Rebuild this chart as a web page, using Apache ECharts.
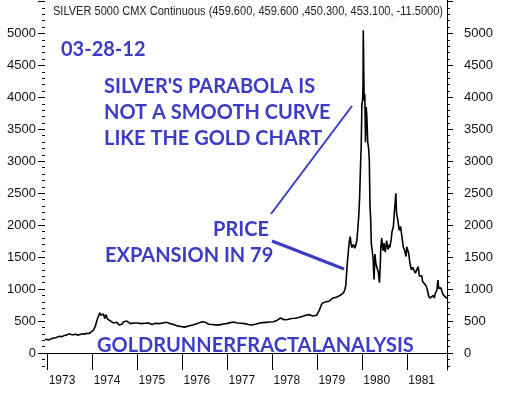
<!DOCTYPE html>
<html><head><meta charset="utf-8">
<script src="https://cdn.jsdelivr.net/npm/echarts@6/dist/echarts.min.js"></script>
<style>html,body{margin:0;padding:0;background:#fff}#c{width:511px;height:396px}</style>
</head><body><div id="c"></div>
<script>
// ---- data (decimal year, price in cents) ----
const dates = [1972.94,1972.98,1973.03,1973.08,1973.12,1973.17,1973.22,1973.27,1973.32,1973.37,1973.42,1973.47,1973.52,1973.57,1973.62,1973.67,1973.72,1973.77,1973.82,1973.87,1973.92,1973.97,
1974.02,1974.06,1974.10,1974.13,1974.16,1974.18,1974.21,1974.24,1974.27,1974.30,1974.33,1974.36,1974.40,1974.43,1974.46,1974.50,1974.54,1974.58,1974.61,1974.65,1974.69,1974.73,1974.76,1974.80,1974.84,1974.88,1974.92,1974.96,
1975.00,1975.04,1975.08,1975.12,1975.16,1975.20,1975.24,1975.28,1975.32,1975.36,1975.40,1975.44,1975.48,1975.52,1975.56,1975.60,1975.64,1975.68,1975.72,1975.76,1975.80,1975.84,1975.88,1975.92,1975.96,
1976.00,1976.04,1976.08,1976.12,1976.16,1976.20,1976.24,1976.28,1976.32,1976.36,1976.40,1976.44,1976.48,1976.51,1976.54,1976.58,1976.62,1976.66,1976.70,1976.74,1976.78,1976.82,1976.86,1976.90,1976.94,1976.98,
1977.02,1977.06,1977.10,1977.14,1977.18,1977.22,1977.26,1977.30,1977.34,1977.38,1977.42,1977.46,1977.50,1977.54,1977.58,1977.62,1977.66,1977.70,1977.74,1977.78,1977.82,1977.86,1977.90,1977.94,1977.98,
1978.02,1978.06,1978.10,1978.14,1978.18,1978.22,1978.26,1978.30,1978.34,1978.38,1978.42,1978.46,1978.50,1978.54,1978.58,1978.62,1978.66,1978.70,1978.74,1978.78,1978.82,1978.86,1978.90,1978.94,1978.98,
1979.02,1979.05,1979.08,1979.11,1979.14,1979.18,1979.22,1979.26,1979.30,1979.34,1979.38,1979.42,1979.46,1979.50,1979.54,1979.58,1979.61,1979.63,1979.65,1979.67,1979.69,1979.71,1979.73,1979.75,1979.77,1979.80,1979.83,1979.86,1979.88,1979.90,1979.92,1979.94,1979.96,1979.975,1979.99,
1980.005,1980.015,1980.02,1980.03,1980.04,1980.055,1980.07,1980.085,1980.10,1980.12,1980.14,1980.155,1980.17,1980.185,1980.20,1980.22,1980.24,1980.26,1980.28,1980.30,1980.32,1980.34,1980.36,1980.38,1980.40,1980.41,1980.43,1980.45,1980.46,1980.48,1980.49,1980.51,1980.52,1980.54,1980.55,1980.57,1980.58,1980.60,1980.61,1980.64,1980.66,1980.69,1980.71,1980.73,1980.745,1980.76,1980.79,1980.82,1980.85,1980.88,1980.91,1980.94,1980.97,1980.99,
1981.03,1981.06,1981.09,1981.12,1981.15,1981.18,1981.21,1981.24,1981.27,1981.30,1981.32,1981.34,1981.37,1981.41,1981.44,1981.47,1981.50,1981.54,1981.58,1981.60,1981.62,1981.66,1981.68,1981.70,1981.73,1981.75,1981.77,1981.80,1981.84,1981.88];
const prices = [215,210,205,225,220,240,250,262,255,275,280,300,290,285,295,280,290,300,295,310,305,330,
360,420,520,580,630,590,560,610,540,600,530,560,500,520,470,500,480,440,470,450,490,470,500,480,460,480,470,455,
470,440,460,445,465,450,470,460,445,455,465,450,460,450,470,490,480,470,460,470,445,440,425,430,415,
420,405,410,420,415,435,440,450,465,470,480,490,505,480,460,450,440,445,435,440,445,440,450,455,450,460,
470,475,480,485,480,470,475,465,470,460,450,445,440,438,445,450,460,465,470,475,470,480,475,485,490,
490,500,510,540,548,530,520,515,525,535,540,530,545,550,555,565,570,580,590,585,600,595,580,570,590,
620,680,740,780,770,800,830,810,840,860,850,870,880,900,890,940,990,1050,1250,1450,1600,1750,1820,1700,1650,1700,1640,1700,1780,1950,2150,2450,2950,3250,3900,
3950,4200,5050,4500,3950,4050,3300,3850,3700,3300,3200,3000,2300,2100,1700,1600,1460,1150,1550,1400,1350,1300,1250,1100,1400,1650,1800,1650,1600,1720,1700,1580,1650,1760,1700,1620,1600,1700,1650,1770,1900,1980,2190,2350,2500,2190,2080,1920,1980,1820,1660,1610,1510,1660,
1560,1400,1300,1340,1320,1250,1270,1350,1200,1170,1210,1120,1090,1060,1010,900,860,880,900,860,930,990,1140,1010,985,1020,960,910,880,855];
const yearTicks = [1973,1974,1975,1976,1977,1978,1979,1980,1981];
const priceLabelMax = 5000;
const titleText = 'SILVER 5000 CMX Continuous (459.600, 459.600 ,450.300, 453.100, -11.5000)';
const notes = [
  ['03-28-12', 61, 50],
  ["SILVER'S PARABOLA IS", 104, 87],
  ['NOT A SMOOTH CURVE', 104, 113],
  ['LIKE THE GOLD CHART', 104, 139],
  ['PRICE', 213, 230],
  ['EXPANSION IN 79', 105, 256],
  ['GOLDRUNNERFRACTALANALYSIS', 97, 346]
];

const LBL_FONT = '"Liberation Sans Narrow","Liberation Sans",Arial,sans-serif';
const BLUE = '#3c3cc4';
const L = 45, R = 64;

// measure title to fit its width in the reference
const cv = document.createElement('canvas').getContext('2d');
cv.font = '12px "Liberation Sans"';
const tW = cv.measureText(titleText).width;
const tScale = 390 / tW;

function tickAxis(grid, pos, min, max, interval, len, labels) {
  return {
    type: 'value', gridIndex: grid, position: pos, min: min, max: max, interval: interval,
    splitLine: {show: false}, axisLine: {show: false},
    axisTick: {show: true, inside: false, length: len, lineStyle: {color: '#000', width: 1}},
    axisLabel: labels ? {show: true, margin: pos === 'left' ? 9 : 17, color: '#111', fontSize: 13,
      fontFamily: LBL_FONT, formatter: v => (v <= priceLabelMax ? String(v) : '')} : {show: false}
  };
}

const chart = echarts.init(document.getElementById('c'), null, {renderer: 'canvas'});
chart.setOption({
  animation: false,
  backgroundColor: '#fff',
  grid: [
    {left: L, right: R, top: 0, height: 370},
    {left: L, right: R, top: 1.56, height: 351.44},
    {left: L, right: R, top: 1.56, height: 364.22}
  ],
  xAxis: [{
    type: 'value', gridIndex: 0, min: 1972.94, max: 1981.883,
    splitLine: {show: false},
    axisLine: {show: true, lineStyle: {color: '#000', width: 1}},
    axisTick: {show: true, length: 17, customValues: yearTicks, lineStyle: {color: '#000', width: 1}},
    axisLabel: {customValues: yearTicks, align: 'left', margin: 5, padding: [0, 0, 0, 1],
      color: '#111', fontSize: 12, fontFamily: LBL_FONT, formatter: v => String(Math.round(v))}
  },
  {type: 'value', gridIndex: 1, show: false, min: 0, max: 1},
  {type: 'value', gridIndex: 2, show: false, min: 0, max: 1}],
  yAxis: [
    {type: 'value', gridIndex: 0, position: 'right', min: -266, max: 5524,
      splitLine: {show: false}, axisLine: {show: true, lineStyle: {color: '#000', width: 1}},
      axisTick: {show: false}, axisLabel: {show: false}},
    tickAxis(1, 'left', 0, 5500, 500, 7, true),
    tickAxis(1, 'right', 0, 5500, 500, 6, true),
    tickAxis(2, 'left', -200, 5500, 100, 3, false),
    tickAxis(2, 'right', -200, 5500, 100, 3, false)
  ],
  series: [{
    type: 'line', xAxisIndex: 0, yAxisIndex: 0, showSymbol: false, symbol: 'none',
    lineStyle: {color: '#000', width: 1.6},
    data: dates.map((d, i) => [d, prices[i]])
  }],
  graphic: [{
    type: 'text', left: 53, top: 6, scaleX: tScale, originX: 0, z: 10,
    style: {text: titleText, fill: '#222', font: '12px "Liberation Sans"'}
  }].concat(notes.map(n => ({
    type: 'text', left: n[1], top: n[2] - 10, z: 10,
    style: {text: n[0], fill: BLUE, font: 'bold 20px Lato, "Open Sans", sans-serif'}
  }))).concat([
    {type: 'line', z: 10, shape: {x1: 271, y1: 214, x2: 352, y2: 106}, style: {stroke: BLUE, lineWidth: 2}},
    {type: 'line', z: 10, shape: {x1: 272, y1: 241, x2: 344, y2: 269}, style: {stroke: BLUE, lineWidth: 3}}
  ])
});
</script></body></html>
